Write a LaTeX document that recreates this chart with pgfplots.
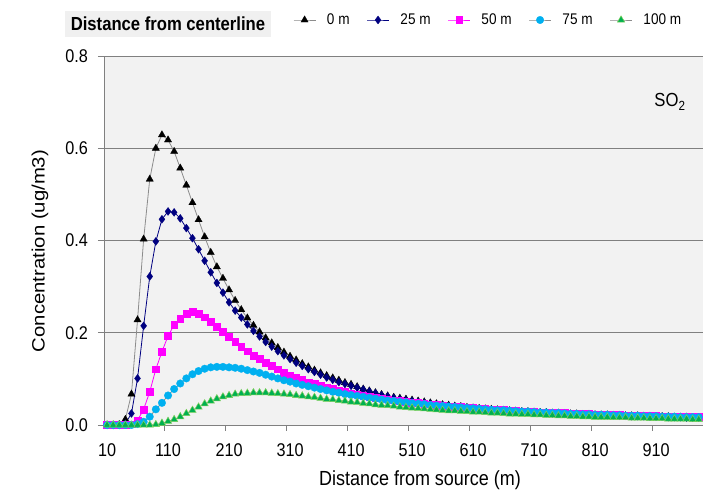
\documentclass[border=0pt]{standalone}
\usepackage{pgfplots}
\usepackage{pgfplotstable}
\pgfplotsset{compat=1.18}
\usepackage{fontspec}
\setmainfont{Liberation Sans}[FakeStretch=0.88]
\newfontfamily\plainsans{Liberation Sans}
\definecolor{bggray}{HTML}{F2F2F2}
\definecolor{gridgray}{HTML}{808080}
\definecolor{linegray}{HTML}{8C8C8C}
\definecolor{boxgray}{HTML}{F0F0F0}
\definecolor{navyc}{HTML}{000080}
\definecolor{magc}{HTML}{FF00FF}
\definecolor{cyanc}{HTML}{00B0F0}
\definecolor{greenc}{HTML}{00B050}
\definecolor{greenedge}{HTML}{7CD05A}

\pgfplotstableread{
x a b c d e
10 0 0 0 0 0
20 0 0 0 0 0
30 0.001 0 0 0 0
40 0.012 0.003 0 0 0
50 0.067 0.025 0.002 0 0
60 0.228 0.101 0.010 0.002 0
70 0.403 0.215 0.034 0.007 0
80 0.533 0.322 0.072 0.018 0
90 0.600 0.398 0.121 0.034 0.001
100 0.629 0.446 0.159 0.048 0.004
110 0.618 0.463 0.193 0.064 0.008
120 0.593 0.461 0.217 0.078 0.012
130 0.557 0.448 0.231 0.090 0.018
140 0.520 0.427 0.241 0.101 0.025
150 0.482 0.405 0.245 0.110 0.032
160 0.445 0.381 0.242 0.117 0.039
170 0.408 0.356 0.234 0.122 0.046
180 0.374 0.331 0.224 0.125 0.052
190 0.343 0.308 0.213 0.126 0.057
200 0.318 0.287 0.202 0.126 0.061
210 0.293 0.266 0.191 0.125 0.064
220 0.270 0.248 0.180 0.124 0.067
230 0.250 0.233 0.170 0.122 0.068
240 0.232 0.218 0.160 0.119 0.069
250 0.216 0.204 0.151 0.116 0.070
260 0.202 0.192 0.143 0.113 0.070
270 0.189 0.180 0.135 0.109 0.070
280 0.178 0.170 0.128 0.105 0.069
290 0.168 0.160 0.121 0.101 0.068
300 0.158 0.151 0.114 0.097 0.067
310 0.149 0.143 0.108 0.094 0.066
320 0.141 0.135 0.103 0.090 0.064
330 0.133 0.128 0.098 0.087 0.063
340 0.126 0.121 0.093 0.084 0.061
350 0.119 0.115 0.089 0.081 0.060
360 0.113 0.109 0.085 0.078 0.058
370 0.107 0.103 0.081 0.075 0.056
380 0.102 0.098 0.078 0.072 0.055
390 0.097 0.093 0.075 0.070 0.053
400 0.092 0.089 0.072 0.067 0.052
410 0.088 0.085 0.069 0.065 0.050
420 0.083 0.081 0.067 0.063 0.049
430 0.078 0.077 0.064 0.061 0.047
440 0.074 0.073 0.062 0.059 0.046
450 0.070 0.069 0.060 0.057 0.044
460 0.066 0.065 0.058 0.055 0.043
470 0.063 0.062 0.056 0.053 0.042
480 0.060 0.059 0.054 0.052 0.041
490 0.058 0.056 0.052 0.050 0.039
500 0.056 0.054 0.051 0.049 0.038
510 0.054 0.052 0.049 0.047 0.037
520 0.052 0.050 0.048 0.046 0.036
530 0.050 0.048 0.046 0.045 0.035
540 0.048 0.046 0.045 0.043 0.034
550 0.046 0.044 0.044 0.042 0.033
560 0.044 0.043 0.042 0.041 0.032
570 0.043 0.041 0.041 0.040 0.031
580 0.041 0.040 0.040 0.039 0.031
590 0.040 0.039 0.039 0.038 0.030
600 0.038 0.037 0.038 0.037 0.029
610 0.037 0.036 0.037 0.036 0.028
620 0.036 0.035 0.036 0.035 0.028
630 0.035 0.034 0.035 0.034 0.027
640 0.034 0.033 0.034 0.033 0.026
650 0.033 0.032 0.033 0.032 0.026
660 0.032 0.031 0.033 0.032 0.025
670 0.031 0.030 0.032 0.031 0.024
680 0.030 0.030 0.031 0.030 0.024
690 0.029 0.029 0.030 0.029 0.023
700 0.029 0.028 0.030 0.029 0.023
710 0.028 0.027 0.029 0.028 0.022
720 0.027 0.027 0.028 0.027 0.022
730 0.027 0.026 0.028 0.027 0.021
740 0.026 0.025 0.027 0.026 0.021
750 0.026 0.025 0.027 0.026 0.020
760 0.025 0.024 0.026 0.025 0.020
770 0.024 0.024 0.025 0.024 0.019
780 0.024 0.023 0.025 0.024 0.019
790 0.023 0.023 0.024 0.023 0.018
800 0.023 0.022 0.024 0.023 0.018
810 0.022 0.022 0.023 0.022 0.017
820 0.022 0.021 0.023 0.022 0.017
830 0.022 0.021 0.023 0.022 0.017
840 0.021 0.021 0.022 0.021 0.016
850 0.021 0.020 0.022 0.021 0.016
860 0.020 0.020 0.021 0.020 0.016
870 0.020 0.019 0.021 0.020 0.015
880 0.020 0.019 0.021 0.020 0.015
890 0.019 0.019 0.020 0.019 0.015
900 0.019 0.018 0.020 0.019 0.014
910 0.018 0.018 0.020 0.019 0.014
920 0.018 0.018 0.019 0.018 0.014
930 0.018 0.017 0.019 0.018 0.013
940 0.017 0.017 0.019 0.018 0.013
950 0.017 0.017 0.018 0.017 0.013
960 0.017 0.016 0.018 0.017 0.013
970 0.016 0.016 0.018 0.017 0.012
980 0.016 0.016 0.018 0.017 0.012
990 0.016 0.015 0.017 0.016 0.012
}\data

\begin{document}
\begin{tikzpicture}
\path[use as bounding box] (0,0) rectangle (703bp,491bp);
\begin{axis}[
  at={(104bp,66bp)}, anchor=south west,
  scale only axis, width=599bp, height=369bp,
  xmin=5, xmax=987, ymin=0, ymax=0.8,
  axis x line*=bottom, axis y line*=left,
  axis line style={draw=gridgray, line width=1bp},
  axis background/.style={fill=bggray},
  ymajorgrids, grid style={draw=gridgray, line width=1bp},
  xtick={10,110,...,910}, minor xtick={105,205,...,905},
  ytick={0,0.2,0.4,0.6,0.8},
  tick align=outside, major tick length=6bp, minor tick length=6bp,
  tick style={draw=gridgray, line width=1bp},
  major x tick style={draw=none},
  /pgf/number format/assume math mode=true,
  /pgf/number format/1000 sep={},
  ticklabel style={font=\fontsize{18.5}{21}\selectfont},
  xticklabel style={anchor=center, yshift=-19bp},
  yticklabel style={anchor=east, inner sep=0pt, xshift=-10bp,
    /pgf/number format/fixed, /pgf/number format/fixed zerofill, /pgf/number format/precision=1},
  clip=true,
  legend columns=5,
  legend style={at={(axis description cs:0.3155,1.0976)}, anchor=west, draw=none, fill=none,
    inner sep=0pt, font=\fontsize{15.5}{18}\selectfont,
    nodes={inner sep=0pt},
    /tikz/every odd column/.append style={column sep=11bp},
    /tikz/every even column/.append style={column sep=17bp}},
  legend image code/.code={\draw[mark repeat=2,mark phase=2,#1] plot coordinates {(0bp,0bp) (11bp,0bp) (22bp,0bp)};},
]
\addplot[color=linegray, line width=0.8bp, mark=triangle*, mark size=4.2bp, mark options={fill=black, draw=black, line width=0.3bp}] table[x=x, y=a] {\data};
\addlegendentry{0 m}
\addplot[color=navyc, line width=0.8bp, mark=diamond*, mark size=4bp, mark options={fill=navyc, draw=navyc, line width=0.3bp}] table[x=x, y=b] {\data};
\addlegendentry{25 m}
\addplot[color=magc, line width=0.8bp, mark=square*, mark size=3.4bp, mark options={fill=magc, draw=magc, line width=0.3bp}] table[x=x, y=c] {\data};
\addlegendentry{50 m}
\addplot[color=linegray, line width=0.8bp, mark=*, mark size=3.8bp, mark options={fill=cyanc, draw=cyanc, line width=0.3bp}] table[x=x, y=d] {\data};
\addlegendentry{75 m}
\addplot[color=linegray, line width=0.8bp, mark=triangle*, mark size=4.2bp, mark options={fill=greenc, draw=greenedge, line width=0.5bp}] table[x=x, y=e] {\data};
\addlegendentry{100 m}
\end{axis}
\node[fill=boxgray, minimum width=206bp, minimum height=26bp, inner sep=0pt, font=\bfseries\fontsize{19}{22}\selectfont] at (168bp,467bp) {Distance from centerline};
\node[font=\fontsize{19}{22}\selectfont] at (670bp,389bp) {SO\textsubscript{2}};
\node[rotate=90, font=\plainsans\fontsize{20.4}{23}\selectfont] at (40bp,240bp) {\scalebox{1}[0.88]{Concentration (ug/m3)}};
\node[font=\fontsize{20.5}{23}\selectfont] at (420bp,11bp) {Distance from source (m)};
\end{tikzpicture}
\end{document}
